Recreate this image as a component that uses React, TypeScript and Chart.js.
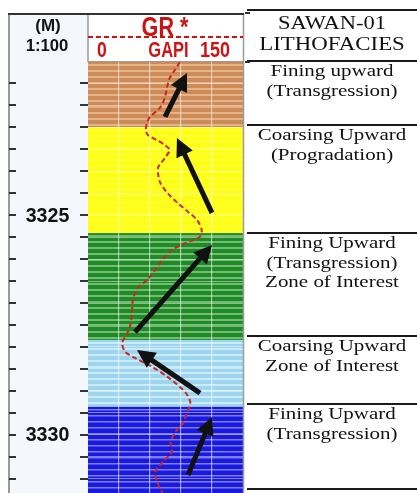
import React, { useEffect, useRef } from 'react';
import { Chart, registerables } from 'chart.js';

Chart.register(...registerables);

// ---- data ----
const depthMin = 3321.52;
const depthMax = 3331.32;
const grMin = 0;
const grMax = 150;
const grStep = 30;

const depthTickValues = [3322, 3322.5, 3323, 3323.5, 3324, 3324.5, 3325, 3325.5, 3326, 3326.5, 3327, 3327.5, 3328, 3328.5, 3329, 3329.5, 3330, 3330.5, 3331];
const depthLabelValues = [3325, 3330];

const grDepths = [3321.52, 3321.70, 3321.89, 3322.09, 3322.32, 3322.55, 3322.77, 3322.91, 3323.07, 3323.18, 3323.30, 3323.41, 3323.52, 3323.70, 3323.91, 3324.09, 3324.27, 3324.50, 3324.73, 3324.93, 3325.11, 3325.34, 3325.50, 3325.64, 3325.80, 3326.02, 3326.25, 3326.48, 3326.66, 3326.93, 3327.23, 3327.55, 3327.77, 3327.91, 3328.11, 3328.25, 3328.45, 3328.68, 3328.91, 3329.09, 3329.27, 3329.48, 3329.73, 3329.95, 3330.18, 3330.39, 3330.61, 3330.84, 3331.07, 3331.32];
const grValues = [89, 84, 79, 76.5, 74.5, 70, 60, 57, 56, 58, 67, 74.5, 79, 74.5, 68, 68, 70, 77, 87, 97, 105.5, 110, 108, 94, 81, 72, 65, 57, 48, 43.5, 42.5, 40.5, 36, 33, 36, 45.5, 62, 77, 89, 96, 99, 96, 92, 84, 80, 81, 72.5, 65, 67, 72];

const faciesTop = [3321.52, 3323.0, 3325.41, 3327.84, 3329.36];
const faciesBase = [3323.0, 3325.41, 3327.84, 3329.36, 3331.32];
const faciesFill = ['#cc8b58', '#ffff12', '#1f8a26', '#9dd5ee', '#1a1ade'];
const faciesStripe = ['rgba(240,200,160,0.9)', 'rgba(255,255,200,0.3)', 'rgba(170,220,170,0.8)', 'rgba(235,250,255,0.8)', 'rgba(150,150,255,0.8)'];

const zoneTops = [3321.5, 3322.95, 3325.41, 3327.75, 3329.3];
const zoneBase = 3331.23;
const zoneTexts = [
  ['Fining upward', '(Transgression)'],
  ['Coarsing Upward', '(Progradation)'],
  ['Fining Upward', '(Transgression)', 'Zone of Interest'],
  ['Coarsing Upward', 'Zone of Interest'],
  ['Fining Upward', '(Transgression)'],
];

const arrowFromGR = [74.5, 120, 45.5, 108.4, 96.8];
const arrowFromDepth = [3322.77, 3324.95, 3327.66, 3329.05, 3330.91];
const arrowToGR = [95.8, 86.1, 120, 47.4, 120];
const arrowToDepth = [3321.77, 3323.25, 3325.68, 3328.07, 3329.59];

const headerTitle = ['SAWAN-01', 'LITHOFACIES'];
const depthHeader = ['(M)', '1:100'];
const curveName = 'GR *';
const curveUnitLabels = ['0', 'GAPI', '150'];

function stretchText(ctx: CanvasRenderingContext2D, text: string, x: number, y: number, sx: number) {
  ctx.save();
  ctx.translate(x, y);
  ctx.scale(sx, 1);
  ctx.fillText(text, 0, 0);
  ctx.restore();
}

function drawArrow(ctx: CanvasRenderingContext2D, x0: number, y0: number, x1: number, y1: number) {
  const ang = Math.atan2(y1 - y0, x1 - x0);
  const headLen = 18;
  const headW = 9;
  const bx = x1 - headLen * Math.cos(ang);
  const by = y1 - headLen * Math.sin(ang);
  ctx.lineWidth = 5;
  ctx.lineCap = 'butt';
  ctx.beginPath();
  ctx.moveTo(x0, y0);
  ctx.lineTo(bx + Math.cos(ang), by + Math.sin(ang));
  ctx.stroke();
  ctx.beginPath();
  ctx.moveTo(x1, y1);
  ctx.lineTo(bx + headW * Math.sin(ang), by - headW * Math.cos(ang));
  ctx.lineTo(bx - headW * Math.sin(ang), by + headW * Math.cos(ang));
  ctx.closePath();
  ctx.fill();
}

const logPlugin = {
  id: 'logPlugin',
  beforeDraw(chart: any) {
    const { ctx, chartArea: ca, scales } = chart;
    const y = scales.y;
    ctx.save();
    ctx.fillStyle = '#ffffff';
    ctx.fillRect(0, 0, chart.width, chart.height);
    ctx.fillStyle = '#f4f8fc';
    ctx.fillRect(9, 14, ca.left - 9, chart.height - 14);
    const w = ca.right - ca.left;
    for (let i = 0; i < faciesTop.length; i++) {
      const t = y.getPixelForValue(faciesTop[i]);
      const b = y.getPixelForValue(faciesBase[i]);
      ctx.fillStyle = faciesFill[i];
      ctx.fillRect(ca.left, t, w, b - t);
      ctx.save();
      ctx.beginPath();
      ctx.rect(ca.left, t, w, b - t);
      ctx.clip();
      ctx.strokeStyle = faciesStripe[i];
      ctx.lineWidth = 1.5;
      for (let yy = t + 3; yy < b; yy += 6) {
        ctx.beginPath();
        ctx.moveTo(ca.left, yy);
        ctx.lineTo(ca.right, yy);
        ctx.stroke();
      }
      ctx.restore();
    }
    ctx.restore();
  },
  afterDatasetsDraw(chart: any) {
    const { ctx, chartArea: ca, scales } = chart;
    const x = scales.x;
    const y = scales.y;
    ctx.save();
    ctx.beginPath();
    ctx.rect(ca.left, ca.top, ca.right - ca.left, ca.bottom - ca.top);
    ctx.clip();
    ctx.strokeStyle = '#111111';
    ctx.fillStyle = '#111111';
    for (let i = 0; i < arrowFromGR.length; i++) {
      drawArrow(
        ctx,
        x.getPixelForValue(arrowFromGR[i]),
        y.getPixelForValue(arrowFromDepth[i]),
        x.getPixelForValue(arrowToGR[i]),
        y.getPixelForValue(arrowToDepth[i])
      );
    }
    ctx.restore();
  },
  afterDraw(chart: any) {
    const { ctx, chartArea: ca, scales } = chart;
    const x = scales.x;
    const y = scales.y;
    ctx.save();
    // frame
    ctx.strokeStyle = '#9a9a9a';
    ctx.lineWidth = 2;
    ctx.beginPath();
    ctx.moveTo(9, 14);
    ctx.lineTo(9, chart.height);
    ctx.stroke();
    ctx.lineWidth = 1.5;
    ctx.beginPath();
    ctx.moveTo(ca.left, 14);
    ctx.lineTo(ca.left, ca.top);
    ctx.moveTo(ca.right + 0.5, 14);
    ctx.lineTo(ca.right + 0.5, chart.height);
    ctx.stroke();
    ctx.strokeStyle = '#333333';
    ctx.lineWidth = 2;
    ctx.beginPath();
    ctx.moveTo(8, 14);
    ctx.lineTo(ca.right + 1, 14);
    ctx.stroke();
    ctx.beginPath();
    ctx.moveTo(ca.right + 2, 13);
    ctx.lineTo(ca.right + 7, 13);
    ctx.moveTo(ca.right + 2, ca.top);
    ctx.lineTo(ca.right + 7, ca.top);
    ctx.stroke();

    // depth ticks
    ctx.strokeStyle = '#333333';
    ctx.lineWidth = 2;
    for (const d of depthTickValues) {
      const py = Math.round(y.getPixelForValue(d));
      ctx.beginPath();
      ctx.moveTo(9, py);
      ctx.lineTo(16, py);
      ctx.moveTo(ca.left - 8, py);
      ctx.lineTo(ca.left, py);
      ctx.stroke();
    }
    ctx.fillStyle = '#111111';
    ctx.textAlign = 'center';
    ctx.textBaseline = 'middle';
    ctx.font = 'bold 20px "Liberation Sans", Arial, sans-serif';
    for (const d of depthLabelValues) {
      stretchText(ctx, String(d), 47.5, y.getPixelForValue(d) + 1, 0.98);
    }

    // depth header
    ctx.font = 'bold 17px "Liberation Sans", Arial, sans-serif';
    stretchText(ctx, depthHeader[0], 48, 26, 1);
    stretchText(ctx, depthHeader[1], 47, 46, 0.98);

    // GR header
    const red = '#cc1414';
    ctx.fillStyle = red;
    ctx.textBaseline = 'alphabetic';
    ctx.font = 'bold 27px "Liberation Sans", Arial, sans-serif';
    stretchText(ctx, curveName, 165, 36, 0.8);
    ctx.strokeStyle = red;
    ctx.lineWidth = 2;
    ctx.setLineDash([5, 3]);
    ctx.beginPath();
    ctx.moveTo(ca.left, 37);
    ctx.lineTo(ca.right, 37);
    ctx.stroke();
    ctx.setLineDash([]);
    ctx.textBaseline = 'middle';
    ctx.font = 'bold 22px "Liberation Sans", Arial, sans-serif';
    stretchText(ctx, curveUnitLabels[0], x.getPixelForValue(grMin) + 14, 51, 0.8);
    stretchText(ctx, curveUnitLabels[1], (x.getPixelForValue(grMin) + x.getPixelForValue(grMax)) / 2 + 3, 51, 0.75);
    stretchText(ctx, curveUnitLabels[2], x.getPixelForValue(grMax) - 28, 51, 0.82);
    ctx.strokeStyle = '#9a9a9a';
    ctx.lineWidth = 1;
    ctx.beginPath();
    ctx.moveTo(ca.left, ca.top - 0.5);
    ctx.lineTo(ca.right, ca.top - 0.5);
    ctx.stroke();

    // right panel
    const rx0 = 247;
    const rx1 = chart.width;
    const cx = 332;
    ctx.strokeStyle = '#1a1a1a';
    ctx.lineWidth = 2;
    const lineYs = [10, ...zoneTops.map((d) => y.getPixelForValue(d)), y.getPixelForValue(zoneBase)];
    for (const ly of lineYs) {
      ctx.beginPath();
      ctx.moveTo(rx0, Math.round(ly));
      ctx.lineTo(rx1, Math.round(ly));
      ctx.stroke();
    }
    ctx.fillStyle = '#111111';
    ctx.textAlign = 'center';
    ctx.textBaseline = 'middle';
    ctx.font = '18px "Liberation Serif", "Times New Roman", serif';
    stretchText(ctx, headerTitle[0], cx, 24, 1.25);
    stretchText(ctx, headerTitle[1], cx, 45, 1.27);
    ctx.font = '16px "Liberation Serif", "Times New Roman", serif';
    for (let i = 0; i < zoneTops.length; i++) {
      const top = y.getPixelForValue(zoneTops[i]);
      zoneTexts[i].forEach((t, j) => {
        stretchText(ctx, t, cx, top + 11 + j * 19.5, 1.31);
      });
    }
    ctx.restore();
  },
};

export default function App() {
  const ref = useRef<HTMLCanvasElement | null>(null);
  useEffect(() => {
    document.body.style.margin = '0';
    const canvas = ref.current;
    if (!canvas) return;
    const chart = new Chart(canvas, {
      type: 'scatter',
      data: {
        datasets: [
          {
            label: 'GR',
            data: grDepths.map((d, i) => ({ x: grValues[i], y: d })),
            showLine: true,
            borderColor: '#d0241c',
            borderWidth: 2,
            borderDash: [5, 3],
            pointRadius: 0,
            tension: 0.3,
            fill: false,
          },
        ],
      },
      options: {
        animation: false,
        responsive: false,
        devicePixelRatio: 1,
        layout: { padding: { left: 88, right: 174, top: 62, bottom: 0 } },
        plugins: { legend: { display: false }, tooltip: { enabled: false } },
        scales: {
          x: {
            type: 'linear',
            min: grMin,
            max: grMax,
            ticks: { display: false, stepSize: grStep },
            grid: {
              drawTicks: false,
              lineWidth: 1.2,
              color: (c: any) => {
                const v = c.tick ? c.tick.value : 0;
                return v > grMin && v < grMax ? 'rgba(255,255,255,0.55)' : 'rgba(0,0,0,0)';
              },
            },
            border: { display: false },
          },
          y: {
            type: 'linear',
            reverse: true,
            min: depthMin,
            max: depthMax,
            ticks: { display: false, stepSize: 0.5, maxTicksLimit: 40 },
            grid: {
              drawTicks: false,
              lineWidth: 1,
              color: (c: any) => {
                const v = c.tick ? c.tick.value : 0;
                const ok = Math.abs(v * 2 - Math.round(v * 2)) < 1e-6;
                return ok ? 'rgba(255,255,255,0.45)' : 'rgba(0,0,0,0)';
              },
            },
            border: { display: false },
          },
        },
      },
      plugins: [logPlugin],
    });
    return () => chart.destroy();
  }, []);
  return (
    <div style={{ position: 'fixed', left: 0, top: 0, width: 417, height: 493, background: '#fff' }}>
      <canvas ref={ref} width={417} height={493} style={{ display: 'block' }} />
    </div>
  );
}
